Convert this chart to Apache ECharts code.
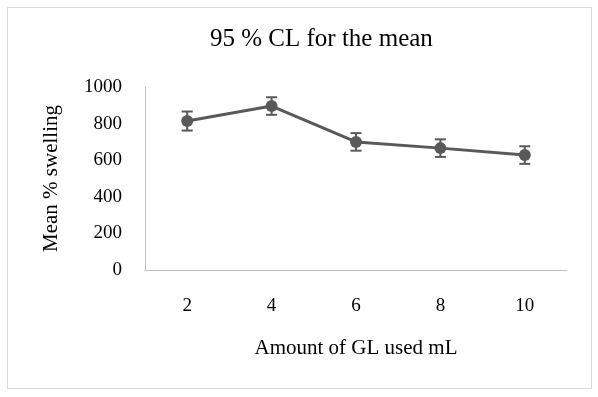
<!DOCTYPE html>
<html><head><meta charset="utf-8">
<script src="https://cdn.jsdelivr.net/npm/echarts@6/dist/echarts.min.js"></script>
<style>html,body{margin:0;padding:0;background:#fff}#c{width:598px;height:397px}</style>
</head><body><div id="c"></div>
<script>
const categories = ['2','4','6','8','10'];
const meanValues = [814, 896, 700, 666, 628];
const ciLow = [762, 848, 652, 618, 580];
const ciHigh = [866, 944, 748, 714, 676];
const yTicks = [0, 200, 400, 600, 800, 1000];

const chart = echarts.init(document.getElementById('c'));
const serif = '"Liberation Serif", "Times New Roman", serif';
const errData = categories.map((c, i) => [i, ciLow[i], ciHigh[i]]);
chart.setOption({
  animation: false,
  backgroundColor: '#fff',
  graphic: [{type: 'rect', shape: {x: 7.5, y: 7.5, width: 584, height: 381}, style: {fill: 'none', stroke: '#d9d9d9', lineWidth: 1}}],
  title: {text: '95 % CL for the mean', left: 205, top: 22, textStyle: {fontFamily: serif, fontSize: 25, fontWeight: 'normal', color: '#000'}},
  grid: {left: 145, right: 31, top: 87, bottom: 127},
  xAxis: {
    type: 'category', data: categories, boundaryGap: true,
    axisLine: {lineStyle: {color: '#bfbfbf'}}, axisTick: {show: false},
    axisLabel: {fontFamily: serif, fontSize: 19, color: '#000', margin: 27},
    name: 'Amount of GL used mL', nameLocation: 'middle', nameGap: 68,
    nameTextStyle: {fontFamily: serif, fontSize: 21, color: '#000'}
  },
  yAxis: {
    type: 'value', min: yTicks[0], max: yTicks[yTicks.length-1], interval: 200,
    axisLine: {show: true, lineStyle: {color: '#bfbfbf'}}, axisTick: {show: false},
    splitLine: {show: false},
    axisLabel: {fontFamily: serif, fontSize: 19, color: '#000', margin: 23, formatter: v => String(v)},
    name: 'Mean % swelling', nameLocation: 'middle', nameGap: 83, nameRotate: 90,
    nameTextStyle: {fontFamily: serif, fontSize: 21, color: '#000'}
  },
  series: [
    {type: 'line', data: meanValues, symbol: 'circle', symbolSize: 12,
     lineStyle: {color: '#595959', width: 3}, itemStyle: {color: '#595959'}, z: 3},
    {type: 'custom', data: errData, z: 4,
     renderItem: function (params, api) {
       const x = api.value(0);
       const lo = api.coord([x, api.value(1)]);
       const hi = api.coord([x, api.value(2)]);
       const hw = 5.5;
       const st = {stroke: '#595959', lineWidth: 2, fill: 'none'};
       return {type: 'group', children: [
         {type: 'line', shape: {x1: lo[0], y1: lo[1], x2: hi[0], y2: hi[1]}, style: st},
         {type: 'line', shape: {x1: lo[0]-hw, y1: lo[1], x2: lo[0]+hw, y2: lo[1]}, style: st},
         {type: 'line', shape: {x1: hi[0]-hw, y1: hi[1], x2: hi[0]+hw, y2: hi[1]}, style: st}
       ]};
     }}
  ]
});
</script></body></html>
